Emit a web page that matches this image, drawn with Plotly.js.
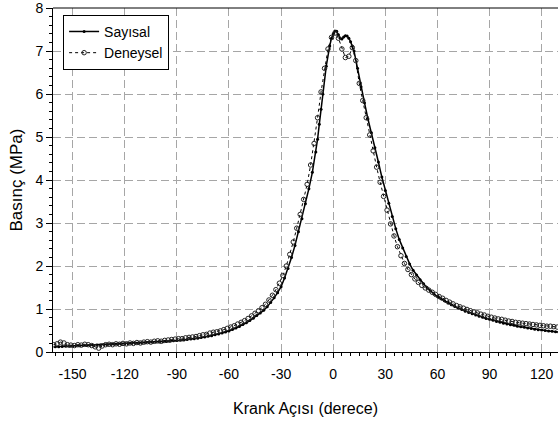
<!DOCTYPE html>
<html>
<head>
<meta charset="utf-8">
<script src="https://cdn.plot.ly/plotly-3.0.1.min.js"></script>
<style>html,body{margin:0;padding:0;background:#fff;overflow:hidden;}</style>
</head>
<body>
<div id="chart" style="width:558px;height:423px;"></div>
<script>
// Sayısal (numerical) series
var sayisalX = [-160,-158,-156,-154,-152,-150,-148,-146,-144,-142,-140,-138,-136,-134,-132,-130,-128,-126,-124,-122,-120,-118,-116,-114,-112,-110,-108,-106,-104,-102,-100,-98,-96,-94,-92,-90,-88,-86,-84,-82,-80,-78,-76,-74,-72,-70,-68,-66,-64,-62,-60,-58,-56,-54,-52,-50,-48,-46,-44,-42,-40,-38,-36,-34,-32,-30,-28,-26,-24,-22,-20,-18,-16,-14,-12,-10,-9,-8,-7,-6,-4,-2,-1,0,1,2,3,4,5,6,7,8,9,10,11,12,14,16,18,20,22,24,26,28,30,32,34,36,38,40,42,44,46,48,50,52,54,56,58,60,62,64,66,68,70,72,74,76,78,80,82,84,86,88,90,92,94,96,98,100,102,104,106,108,110,112,114,116,118,120,122,124,126,128,130];
var sayisalY = [0.120,0.124,0.128,0.132,0.136,0.140,0.143,0.146,0.149,0.152,0.155,0.158,0.161,0.164,0.167,0.170,0.174,0.178,0.182,0.186,0.190,0.194,0.198,0.202,0.206,0.210,0.215,0.220,0.225,0.230,0.235,0.241,0.247,0.253,0.259,0.265,0.273,0.281,0.290,0.300,0.310,0.322,0.335,0.349,0.364,0.380,0.399,0.419,0.441,0.465,0.490,0.523,0.558,0.596,0.637,0.680,0.730,0.788,0.850,0.910,0.970,1.05,1.15,1.26,1.38,1.52,1.72,1.94,2.20,2.48,2.80,3.10,3.45,3.80,4.18,4.65,4.95,5.30,5.65,6.00,6.65,7.12,7.30,7.40,7.47,7.46,7.38,7.30,7.28,7.33,7.36,7.35,7.30,7.22,7.12,7.00,6.60,6.17,5.80,5.42,5.10,4.75,4.42,4.07,3.76,3.46,3.15,2.87,2.62,2.42,2.22,2.05,1.90,1.79,1.68,1.59,1.50,1.42,1.35,1.29,1.24,1.19,1.14,1.10,1.06,1.02,0.99,0.95,0.92,0.89,0.86,0.83,0.81,0.78,0.76,0.74,0.71,0.69,0.67,0.65,0.635,0.62,0.60,0.59,0.575,0.56,0.545,0.53,0.52,0.51,0.50,0.49,0.48,0.47,0.46];

// Deneysel (experimental) series
var deneyselX = [-161,-159,-157,-155,-153,-151,-149,-147,-145,-143,-141,-139,-137,-135,-133,-131,-129,-127,-125,-123,-121,-119,-117,-115,-113,-111,-109,-107,-105,-103,-101,-99,-97,-95,-93,-91,-89,-87,-85,-83,-81,-79,-77,-75,-73,-71,-69,-67,-65,-63,-61,-59,-57,-55,-53,-51,-49,-47,-45,-43,-41,-39,-37,-35,-33,-31,-29,-27,-25,-23,-21,-19,-17,-15,-13,-11,-9,-7,-5,-3,-1,1,3,5,7,9,11,13,15,17,19,21,23,25,27,29,31,33,35,37,39,41,43,45,47,49,51,53,55,57,59,61,63,65,67,69,71,73,75,77,79,81,83,85,87,89,91,93,95,97,99,101,103,105,107,109,111,113,115,117,119,121,123,125,127,129];
var deneyselY = [0.17,0.19,0.23,0.21,0.17,0.16,0.15,0.17,0.16,0.18,0.17,0.15,0.12,0.09,0.14,0.17,0.18,0.17,0.19,0.18,0.20,0.19,0.21,0.20,0.22,0.21,0.23,0.24,0.23,0.25,0.26,0.25,0.27,0.28,0.29,0.30,0.31,0.31,0.33,0.34,0.35,0.36,0.38,0.40,0.41,0.44,0.46,0.47,0.49,0.52,0.55,0.58,0.61,0.65,0.69,0.73,0.78,0.84,0.90,0.96,1.03,1.11,1.21,1.32,1.45,1.60,1.78,2.00,2.27,2.56,2.88,3.20,3.55,3.90,4.35,4.85,5.45,6.05,6.60,7.05,7.32,7.42,7.30,7.05,6.85,6.88,7.08,6.78,6.25,5.85,5.45,5.05,4.68,4.30,3.95,3.62,3.30,2.98,2.70,2.45,2.24,2.06,1.92,1.80,1.70,1.62,1.55,1.49,1.44,1.39,1.34,1.29,1.25,1.20,1.16,1.12,1.08,1.05,1.02,0.99,0.96,0.93,0.91,0.88,0.86,0.83,0.81,0.79,0.77,0.76,0.74,0.72,0.71,0.69,0.68,0.67,0.66,0.65,0.64,0.63,0.62,0.61,0.60,0.60,0.59,0.58];

var seriesNames = ["Sayısal", "Deneysel"];
var xTickVals = [-150, -120, -90, -60, -30, 0, 30, 60, 90, 120];
var xTickText = ["-150", "-120", "-90", "-60", "-30", "0", "30", "60", "90", "120"];
var yTickVals = [0, 1, 2, 3, 4, 5, 6, 7, 8];
var xTitle = "Krank Açısı (derece)";
var yTitle = "Basınç (MPa)";

var FONT = "Liberation Sans, Arial, sans-serif";

var traces = [
  {
    x: sayisalX, y: sayisalY, name: seriesNames[0], type: "scatter", mode: "lines+markers",
    line: {color: "#000", width: 1.5},
    marker: {color: "#000", size: 3, symbol: "circle"}
  },
  {
    x: deneyselX, y: deneyselY, name: seriesNames[1], type: "scatter", mode: "lines+markers",
    line: {color: "#000", width: 1, dash: "dot"},
    marker: {color: "#222", size: 4.5, symbol: "circle-open", line: {width: 1}}
  }
];

var layout = {
  width: 558, height: 423,
  margin: {l: 53, r: 0, t: 8, b: 71},
  paper_bgcolor: "#fff", plot_bgcolor: "#fff",
  font: {family: FONT, color: "#000", size: 14},
  showlegend: true,
  legend: {
    x: 0.02, y: 0.98, xanchor: "left", yanchor: "top",
    bgcolor: "#fff", bordercolor: "#000", borderwidth: 1,
    font: {family: FONT, size: 14, color: "#000"},
    tracegroupgap: 0
  },
  xaxis: {
    range: [-161.3, 129.4], tickmode: "array", tickvals: xTickVals, ticktext: xTickText,
    showline: true, linecolor: "#000", linewidth: 1,
    ticks: "outside", ticklen: 5, tickcolor: "#000",
    ticklabelstandoff: 4,
    minor: {dtick: 5, tick0: 0, ticks: "outside", ticklen: 3, tickcolor: "#000", showgrid: false},
    showgrid: true, gridcolor: "#a6a6a6", griddash: "8px,4px", gridwidth: 1,
    zeroline: false,
    tickfont: {family: FONT, size: 14, color: "#000"},
    title: {text: xTitle, font: {family: FONT, size: 16, color: "#000"}, standoff: 22}
  },
  yaxis: {
    range: [0, 8.003], tickmode: "array", tickvals: yTickVals,
    showline: true, linecolor: "#000", linewidth: 1,
    ticks: "outside", ticklen: 6, tickcolor: "#000",
    minor: {dtick: 0.2, tick0: 0, ticks: "outside", ticklen: 3, tickcolor: "#000", showgrid: false},
    showgrid: true, gridcolor: "#a6a6a6", griddash: "8px,4px", gridwidth: 1,
    zeroline: false,
    tickfont: {family: FONT, size: 14, color: "#000"},
    title: {text: yTitle, font: {family: FONT, size: 17, color: "#000"}, standoff: 8}
  },
  shapes: [
    {type: "line", xref: "paper", yref: "paper", x0: 0, x1: 1, y0: 1, y1: 1, line: {color: "#000", width: 1}}
  ]
};

Plotly.newPlot("chart", traces, layout, {displayModeBar: false, staticPlot: true});
</script>
</body>
</html>
